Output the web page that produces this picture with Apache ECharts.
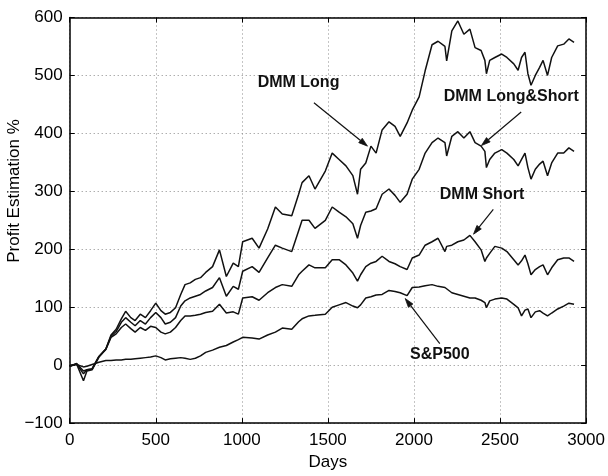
<!DOCTYPE html>
<html>
<head>
<meta charset="utf-8">
<script src="https://cdn.jsdelivr.net/npm/echarts@6/dist/echarts.min.js"></script>
<style>
  html, body { margin: 0; padding: 0; background: #fff; }
  #chart { width: 608px; height: 476px; }
</style>
</head>
<body>
<div id="chart"></div>
<script>
// Trading days since start
const days = [0,40,80,100,130,170,210,240,270,300,
  325,355,380,410,440,470,500,530,555,585,
  615,645,670,700,730,760,790,830,870,880,
  910,950,980,1005,1060,1100,1150,1195,1235,1290,
  1330,1350,1390,1425,1485,1525,1565,1605,1645,1672,
  1690,1720,1750,1780,1815,1855,1890,1920,1960,1990,
  2030,2065,2105,2140,2180,2190,2220,2255,2290,2325,
  2355,2390,2412,2421,2440,2470,2510,2540,2580,2605,
  2625,2645,2662,2680,2705,2730,2750,2776,2800,2835,
  2870,2900,2930];

// Cumulative profit (%) of each strategy
const dmmLong = [-2,3,-10,-8,-6,15,28,52,62,80,
  93,82,77,88,82,94,107,94,88,91,
  99,122,139,142,148,151,160,170,199,196,
  153,176,170,213,219,202,235,273,261,258,
  295,315,327,304,335,366,355,344,327,295,
  338,349,378,366,406,420,412,395,418,440,
  463,508,553,559,550,525,577,594,571,580,
  548,543,526,503,526,531,537,531,520,509,
  531,540,503,483,500,514,526,500,531,551,
  554,563,557];

const dmmLongShort = [-2,2,-15,-8,-7,15,28,50,58,74,
  82,74,68,77,71,82,91,82,71,74,
  82,102,111,116,119,122,128,134,151,148,
  119,136,131,162,170,160,185,207,202,196,
  232,250,250,236,250,273,264,256,244,219,
  241,264,266,270,295,304,293,281,295,321,
  338,366,384,392,384,361,395,403,392,403,
  384,378,369,341,355,366,372,366,355,344,
  355,366,341,321,338,347,352,327,349,366,
  366,375,369];

const dmmShort = [-2,2,-27,-10,-8,14,27,48,54,65,
  71,63,57,65,60,67,65,57,54,57,
  65,77,85,85,86,88,91,93,105,103,
  90,92,88,116,118,112,125,134,139,136,
  156,162,173,168,168,182,182,173,159,145,
  156,170,176,179,188,179,175,170,165,185,
  190,207,213,219,196,205,207,213,216,224,
  213,199,179,185,193,205,202,196,182,173,
  180,190,175,156,165,170,173,156,168,182,
  185,185,179];

const sp500 = [0,1,-3,-2,1,5,8,8,9,9,
  10,10,11,12,13,14,16,13,9,11,
  12,13,12,10,12,16,22,26,31,32,
  34,40,44,48,47,45,52,57,64,62,
  75,80,85,86,88,100,104,108,102,99,
  104,116,118,121,122,129,127,125,120,134,
  135,137,139,136,134,133,125,122,119,116,
  116,112,108,99,111,114,116,114,105,99,
  85,95,97,82,92,94,90,85,90,97,
  102,107,105];

const seriesNames = ['DMM Long', 'DMM Long&Short', 'DMM Short', 'S&P500'];
const seriesValues = [dmmLong, dmmLongShort, dmmShort, sp500];

// Annotation callouts in data units: label anchor, arrow tail, arrow tip
const callouts = [
  { text: 'DMM Long',       at: [1092, 473], tail: [1419, 453], tip: [1730, 378] },
  { text: 'DMM Long&Short', at: [2173, 449], tail: [2623, 437], tip: [2392, 379] },
  { text: 'DMM Short',      at: [2150, 281], tail: [2461, 269], tip: [2346, 226] },
  { text: 'S&P500',         at: [1977,   5], tail: [2150,  37], tip: [1949, 115] }
];

const FONT = '"Liberation Sans", Arial, Helvetica, sans-serif';
const chart = echarts.init(document.getElementById('chart'), null, { renderer: 'canvas' });

const pairs = vals => days.map((d, i) => [d, vals[i]]);

const gridLine = { show: true, lineStyle: { color: '#8a8a8a', width: 1, type: [1, 3] } };
const tickIn = { show: true, inside: true, length: 5, lineStyle: { color: '#000', width: 1 } };
const frame = { show: true, onZero: false, lineStyle: { color: '#000', width: 1.5 } };

chart.setOption({
  animation: false,
  backgroundColor: '#fff',
  grid: { left: 69.7, right: 17.5, top: 17.5, bottom: 47.5 },
  xAxis: [
    {
      type: 'value', min: 0, max: 3000, interval: 500,
      name: 'Days', nameLocation: 'middle', nameGap: 28,
      nameTextStyle: { color: '#000', fontSize: 17, fontFamily: FONT },
      axisLine: frame, axisTick: tickIn, splitLine: gridLine,
      axisLabel: { color: '#000', fontSize: 17, fontFamily: FONT, margin: 9,
                   formatter: v => String(v) }
    },
    {
      type: 'value', min: 0, max: 3000, interval: 500, position: 'top',
      axisLine: frame, axisTick: tickIn, splitLine: { show: false },
      axisLabel: { show: false }
    }
  ],
  yAxis: [
    {
      type: 'value', min: -100, max: 600, interval: 100,
      axisLine: frame, axisTick: tickIn, splitLine: gridLine,
      axisLabel: {
        color: '#000', fontSize: 17, fontFamily: FONT, margin: 7,
        formatter: v => String(v).replace('-', '\u2212')
      }
    },
    {
      type: 'value', min: -100, max: 600, interval: 100, position: 'right',
      axisLine: frame, axisTick: tickIn, splitLine: { show: false },
      axisLabel: { show: false }
    }
  ],
  series: seriesNames.map((name, k) => ({
    name: name,
    type: 'line',
    data: pairs(seriesValues[k]),
    showSymbol: false,
    symbol: 'none',
    lineStyle: { color: '#111', width: 1.5 },
    z: 3
  }))
});

// Vertical axis title plus callout labels and arrows
function drawAnnotations() {
  const els = [{
    type: 'text', x: 14, y: 191, rotation: Math.PI / 2, z: 10,
    style: { text: 'Profit Estimation %', fill: '#000', font: '17px ' + FONT,
             textAlign: 'center', textVerticalAlign: 'middle' }
  }];
  callouts.forEach(c => {
    const p = chart.convertToPixel({ gridIndex: 0 }, c.at);
    const t = chart.convertToPixel({ gridIndex: 0 }, c.tail);
    const h = chart.convertToPixel({ gridIndex: 0 }, c.tip);
    els.push({
      type: 'text', x: p[0], y: p[1], z: 10,
      style: { text: c.text, fill: '#111', font: 'bold 16px ' + FONT,
               textAlign: 'left', textVerticalAlign: 'bottom' }
    });
    const dx = h[0] - t[0], dy = h[1] - t[1];
    const len = Math.sqrt(dx * dx + dy * dy);
    const ux = dx / len, uy = dy / len;
    const headLen = 9, headHalf = 2.8;
    const bx = h[0] - ux * headLen, by = h[1] - uy * headLen;
    els.push({
      type: 'line', z: 10,
      shape: { x1: t[0], y1: t[1], x2: bx, y2: by },
      style: { stroke: '#111', lineWidth: 1.2 }
    });
    els.push({
      type: 'polygon', z: 10,
      shape: { points: [
        [h[0], h[1]],
        [bx - uy * headHalf, by + ux * headHalf],
        [bx + uy * headHalf, by - ux * headHalf]
      ] },
      style: { fill: '#111', stroke: '#111', lineWidth: 0.8 }
    });
  });
  chart.setOption({ graphic: els });
}
drawAnnotations();
</script>
</body>
</html>
